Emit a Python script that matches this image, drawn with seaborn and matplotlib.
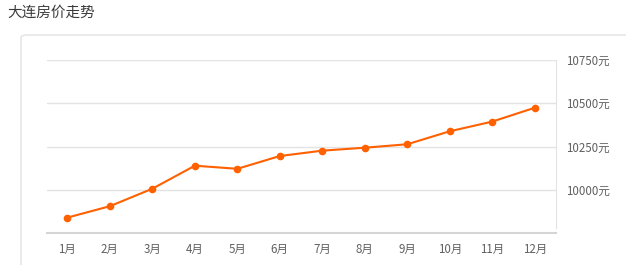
import matplotlib
matplotlib.use("Agg")
import matplotlib.pyplot as plt
import seaborn as sns
import pandas as pd
from matplotlib.patches import FancyBboxPatch

months = ["1月", "2月", "3月", "4月", "5月", "6月", "7月", "8月", "9月", "10月", "11月", "12月"]
prices = [9839, 9905, 10006, 10139, 10121, 10195, 10226, 10243, 10263, 10338, 10394, 10474]
yticks = [10000, 10250, 10500, 10750]
ytick_labels = ["10000元", "10250元", "10500元", "10750元"]
title = "大连房价走势"

sns.set_style("white")
plt.rcParams['font.family'] = ['Noto Sans CJK SC', 'DejaVu Sans']

df = pd.DataFrame({"month": months, "price": prices})
df["idx"] = range(len(months))

fig = plt.figure(figsize=(6.26, 2.65), dpi=100)
fig.patch.set_facecolor("white")

# panel box
box = FancyBboxPatch((21/626, -0.1), 1.2, (265-35)/265 + 0.1,
                     boxstyle="round,pad=0,rounding_size=0.01",
                     transform=fig.transFigure, facecolor="none",
                     edgecolor="#e6e6e6", linewidth=1.2, zorder=-5)
fig.patches.append(box)

fig.text(7/626, 1 - 13/265, title, fontsize=10.5, color="#3a3a3a", va="center", ha="left")

ax = fig.add_axes([47/626, (265-233)/265, (556-47)/626, (233-60)/265])
ax.set_zorder(5)
ax.set_facecolor("none")
sns.lineplot(data=df, x="idx", y="price", ax=ax, color="#ff6000", linewidth=1.5,
             marker="o", markersize=5.5, markeredgewidth=0, zorder=3)

ax.set_xlim(-0.48, 11.5)
ax.set_ylim(9750, 10750)
ax.set_xticks(range(len(months)))
ax.set_xticklabels(months)
ax.set_yticks(yticks)
ax.set_yticklabels(ytick_labels)
ax.yaxis.tick_right()
ax.grid(axis="y", color="#e3e3e3", linewidth=1)
ax.grid(axis="x", visible=False)
ax.set_xlabel("")
ax.set_ylabel("")
for s in ["top", "left"]:
    ax.spines[s].set_visible(False)
ax.spines["right"].set_color("#e3e3e3")
ax.spines["right"].set_bounds(9780, 10750)
ax.spines["bottom"].set_color("#d5d5d5")
ax.spines["bottom"].set_linewidth(1.5)
ax.tick_params(axis="x", length=3, color="#d5d5d5", labelsize=8.3, labelcolor="#606060", pad=4)
ax.tick_params(axis="y", length=0, labelsize=8.3, labelcolor="#606060", pad=7)

fig.savefig("out.png", dpi=100)
